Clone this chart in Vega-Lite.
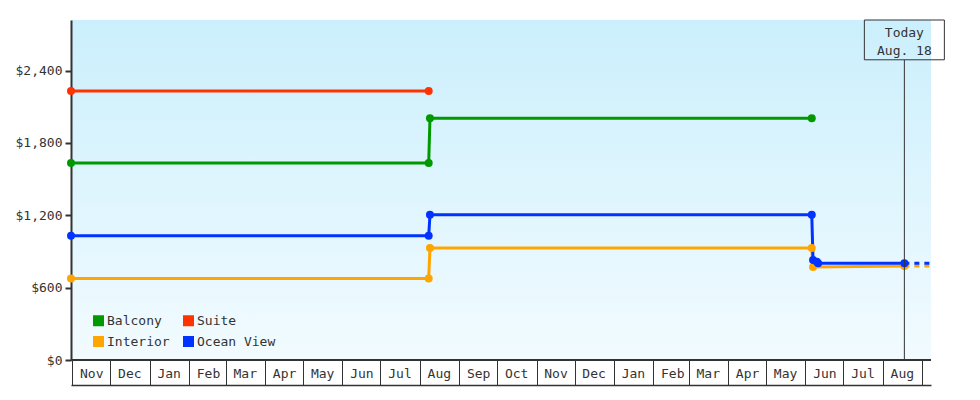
{
  "$schema": "https://vega.github.io/schema/vega-lite/v6.json",
  "description": "Cruise cabin prices by cabin type",
  "width": 860,
  "height": 340,
  "autosize": "none",
  "padding": {"left": 71, "top": 20, "right": 49, "bottom": 40},
  "background": "white",
  "config": {
    "font": "DejaVu Sans Mono",
    "view": {
      "stroke": null,
      "fill": {
        "gradient": "linear",
        "x1": 0, "y1": 0, "x2": 0, "y2": 1,
        "stops": [
          {"offset": 0, "color": "#cbeffc"},
          {"offset": 1, "color": "#f2fbff"}
        ]
      }
    },
    "axis": {
      "labelFont": "DejaVu Sans Mono",
      "labelFontSize": 13,
      "labelColor": "#333",
      "domainColor": "#333",
      "tickColor": "#333",
      "grid": false,
      "title": null
    }
  },
  "datasets": {
    "prices": [
      {"cabin": "Balcony", "date": "2023-10-31", "price": 1633},
      {"cabin": "Balcony", "date": "2024-08-08", "price": 1633},
      {"cabin": "Balcony", "date": "2024-08-09", "price": 2005},
      {"cabin": "Balcony", "date": "2025-06-06", "price": 2005},
      {"cabin": "Suite", "date": "2023-10-31", "price": 2232},
      {"cabin": "Suite", "date": "2024-08-08", "price": 2232},
      {"cabin": "Interior", "date": "2023-10-31", "price": 677},
      {"cabin": "Interior", "date": "2024-08-08", "price": 677},
      {"cabin": "Interior", "date": "2024-08-09", "price": 928},
      {"cabin": "Interior", "date": "2025-06-06", "price": 928},
      {"cabin": "Interior", "date": "2025-06-07", "price": 772},
      {"cabin": "Interior", "date": "2025-08-18", "price": 779},
      {"cabin": "Ocean View", "date": "2023-10-31", "price": 1030},
      {"cabin": "Ocean View", "date": "2024-08-08", "price": 1030},
      {"cabin": "Ocean View", "date": "2024-08-09", "price": 1204},
      {"cabin": "Ocean View", "date": "2025-06-06", "price": 1204},
      {"cabin": "Ocean View", "date": "2025-06-07", "price": 830},
      {"cabin": "Ocean View", "date": "2025-06-10", "price": 815},
      {"cabin": "Ocean View", "date": "2025-06-11", "price": 802},
      {"cabin": "Ocean View", "date": "2025-08-18", "price": 802}
    ],
    "projected": [
      {"cabin": "Interior", "date": "2025-08-18", "price": 779},
      {"cabin": "Interior", "date": "2025-09-08", "price": 779},
      {"cabin": "Ocean View", "date": "2025-08-18", "price": 802},
      {"cabin": "Ocean View", "date": "2025-09-08", "price": 802}
    ],
    "today": [
      {"date": "2025-08-18", "label": "Today|Aug. 18"}
    ]
  },
  "layer": [
    {
      "data": {"name": "prices"},
      "mark": {"type": "line", "strokeWidth": 3},
      "encoding": {
        "x": {
          "field": "date",
          "type": "temporal",
          "scale": {
            "type": "utc",
            "nice": false,
            "padding": 0,
            "domain": [
              {"year": 2023, "month": 10, "date": 31, "utc": true},
              {"year": 2025, "month": 9, "date": 8, "utc": true}
            ]
          },
          "axis": {
            "orient": "bottom",
            "offset": 25,
            "tickCount": {"interval": "month", "step": 1},
            "tickSize": -25,
            "tickWidth": 1,
            "domainWidth": 1.5,
            "labelAlign": "center",
            "labelBaseline": "middle",
            "labelOffset": 19,
            "labelPadding": 13,
            "labelFlush": false,
            "labelOverlap": false,
            "labelExpr": "utcyear(datum.value) == 2025 && utcmonth(datum.value) == 8 ? '' : utcFormat(datum.value, '%b')"
          }
        },
        "y": {
          "field": "price",
          "type": "quantitative",
          "scale": {"domain": [0, 2820], "nice": false},
          "axis": {
            "values": [0, 600, 1200, 1800, 2400],
            "format": "$,.0f",
            "tickSize": 6,
            "tickWidth": 2,
            "domainWidth": 2,
            "labelPadding": 3
          }
        },
        "color": {
          "field": "cabin",
          "type": "nominal",
          "scale": {
            "domain": ["Balcony", "Suite", "Interior", "Ocean View"],
            "range": ["#009900", "#ff3300", "#ffa500", "#0033ff"]
          },
          "legend": {
            "orient": "none",
            "direction": "horizontal",
            "legendX": 21,
            "legendY": 294,
            "columns": 2,
            "title": null,
            "padding": 0,
            "symbolType": "square",
            "symbolSize": 121,
            "symbolStrokeWidth": 0,
            "labelFont": "DejaVu Sans Mono",
            "labelFontSize": 13,
            "labelColor": "#333",
            "labelOffset": 2,
            "columnPadding": 12,
            "rowPadding": 7,
            "encode": {
              "symbols": {
                "update": {
                  "fill": {"scale": "color", "field": "value"},
                  "fillOpacity": {"value": 1},
                  "opacity": {"value": 1},
                  "strokeWidth": {"value": 0}
                }
              }
            }
          }
        }
      }
    },
    {
      "data": {"name": "projected"},
      "mark": {"type": "line", "strokeWidth": 3, "strokeDash": [5, 5]},
      "encoding": {
        "x": {"field": "date", "type": "temporal"},
        "y": {"field": "price", "type": "quantitative"},
        "color": {"field": "cabin", "type": "nominal"}
      }
    },
    {
      "data": {"name": "prices"},
      "mark": {"type": "circle", "size": 64, "opacity": 1},
      "encoding": {
        "x": {"field": "date", "type": "temporal"},
        "y": {"field": "price", "type": "quantitative"},
        "color": {"field": "cabin", "type": "nominal"}
      }
    },
    {
      "data": {"name": "prices"},
      "mark": {"type": "rule", "color": "#333", "strokeWidth": 2},
      "encoding": {
        "y": {"datum": 0}
      }
    },
    {
      "data": {"name": "today"},
      "mark": {"type": "rule", "color": "#333", "strokeWidth": 1},
      "encoding": {
        "x": {"field": "date", "type": "temporal"},
        "y": {"datum": 0},
        "y2": {"datum": 2490}
      }
    },
    {
      "data": {"name": "today"},
      "mark": {"type": "bar", "width": 80, "fillOpacity": 0, "stroke": "#333", "strokeWidth": 1, "clip": false},
      "encoding": {
        "x": {"field": "date", "type": "temporal"},
        "y": {"datum": 2820},
        "y2": {"datum": 2490}
      }
    },
    {
      "data": {"name": "today"},
      "mark": {"type": "text", "fontSize": 13, "color": "#333", "lineHeight": 18, "baseline": "middle", "lineBreak": "|", "font": "DejaVu Sans Mono"},
      "encoding": {
        "x": {"field": "date", "type": "temporal"},
        "y": {"datum": 2712},
        "text": {"field": "label"}
      }
    }
  ]
}
